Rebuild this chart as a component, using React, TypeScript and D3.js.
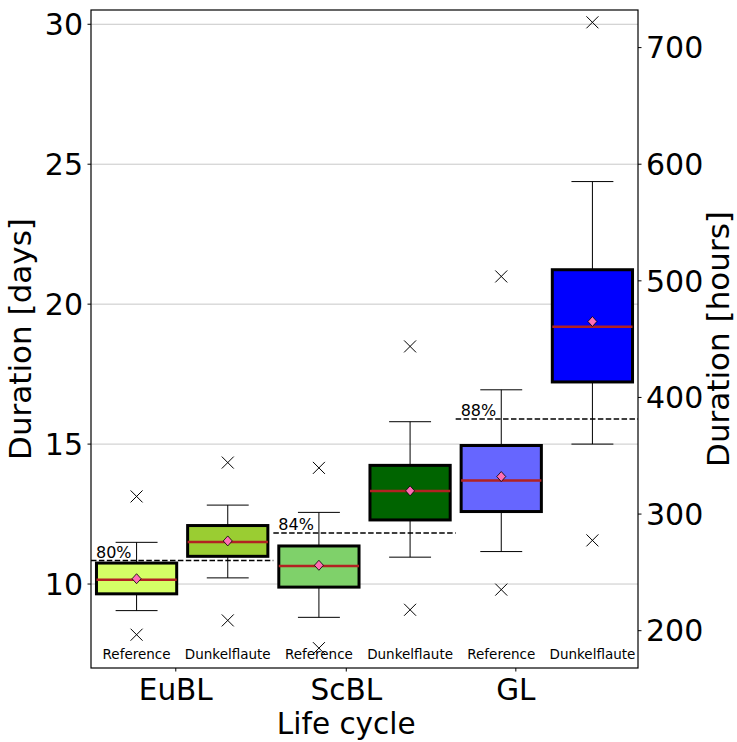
import * as d3 from "d3";

// boxes in draw order: EuBL Ref, EuBL Dunkel, ScBL Ref, ScBL Dunkel, GL Ref, GL Dunkel
const groups = ["EuBL", "ScBL", "GL"];
const groupTickPos = [1.43, 3.3, 5.16];
const caseLabels = ["Reference", "Dunkelflaute", "Reference", "Dunkelflaute", "Reference", "Dunkelflaute"];
const boxColors = ["#d4ff66", "#9acd32", "#7fd16a", "#006400", "#6666ff", "#0000ff"];

const q1 = [9.65, 10.99, 9.89, 12.29, 12.59, 17.22];
const q3 = [10.75, 12.09, 11.36, 14.24, 14.95, 21.23];
const medians = [10.15, 11.5, 10.64, 13.32, 13.7, 19.19];
const means = [10.19, 11.54, 10.67, 13.33, 13.84, 19.38];
const whiskerLow = [9.05, 10.22, 8.81, 10.96, 11.16, 15.0];
const whiskerHigh = [11.49, 12.82, 12.56, 15.8, 16.94, 24.38];
const outlierLow = [8.19, 8.7, 7.71, 9.08, 9.8, 11.56];
const outlierHigh = [13.13, 14.34, 14.15, 18.49, 20.99, 30.07];

// percentile thresholds, one per life cycle (spanning its two boxes)
const thresholds = [10.84, 11.82, 15.9];
const thresholdLabels = ["80%", "84%", "88%"];

const dayTicks = [10, 15, 20, 25, 30];
const hourTicks = [200, 300, 400, 500, 600, 700];

const W = 737;
const H = 742;
const left = 91;
const right = 638;
const top = 10;
const bottom = 668;
const font = "DejaVu Sans, sans-serif";

export default function App() {
  const x = d3.scaleLinear().domain([0.5, 6.5]).range([left, right]);
  const y = d3.scaleLinear().domain([7.0, 30.51]).range([bottom, top]);
  const yh = d3.scaleLinear().domain([7.0 * 24, 30.51 * 24]).range([bottom, top]);
  const slot = x(2) - x(1);
  const boxW = slot * 0.88;
  const capW = slot * 0.46;

  return (
    <svg width={W} height={H} style={{ position: "absolute", left: 0, top: 0 }} fontFamily={font}>
      <rect width={W} height={H} fill="#fff" />
      {/* grid */}
      {dayTicks.map((t) => (
        <line key={"g" + t} x1={left} x2={right} y1={y(t)} y2={y(t)} stroke="#c8c8c8" strokeWidth={1} />
      ))}

      {/* boxes */}
      {q1.map((_, i) => {
        const cx = x(i + 1);
        const s = 6;
        return (
          <g key={"b" + i}>
            <line x1={cx} x2={cx} y1={y(whiskerHigh[i])} y2={y(q3[i])} stroke="#000" strokeWidth={1} />
            <line x1={cx} x2={cx} y1={y(q1[i])} y2={y(whiskerLow[i])} stroke="#000" strokeWidth={1} />
            <line x1={cx - capW / 2} x2={cx + capW / 2} y1={y(whiskerHigh[i])} y2={y(whiskerHigh[i])} stroke="#000" strokeWidth={1} />
            <line x1={cx - capW / 2} x2={cx + capW / 2} y1={y(whiskerLow[i])} y2={y(whiskerLow[i])} stroke="#000" strokeWidth={1} />
            <rect
              x={cx - boxW / 2}
              y={y(q3[i])}
              width={boxW}
              height={y(q1[i]) - y(q3[i])}
              fill={boxColors[i]}
              stroke="#000"
              strokeWidth={3}
            />
            <line x1={cx - boxW / 2} x2={cx + boxW / 2} y1={y(medians[i])} y2={y(medians[i])} stroke="#b22222" strokeWidth={2.5} />
            <path
              d={`M${cx},${y(means[i]) - 5}L${cx + 4.5},${y(means[i])}L${cx},${y(means[i]) + 5}L${cx - 4.5},${y(means[i])}Z`}
              fill="#ff6eb4"
              stroke="#000"
              strokeWidth={0.8}
            />
            {[outlierLow[i], outlierHigh[i]].map((v, k) => (
              <path
                key={k}
                d={`M${cx - s},${y(v) - s}L${cx + s},${y(v) + s}M${cx - s},${y(v) + s}L${cx + s},${y(v) - s}`}
                stroke="#000"
                strokeWidth={1}
              />
            ))}
            <text x={cx} y={659} fontSize={13.5} textAnchor="middle">
              {caseLabels[i]}
            </text>
          </g>
        );
      })}

      {/* thresholds */}
      {thresholds.map((t, g) => (
        <g key={"t" + g}>
          <line
            x1={x(g * 2 + 0.5)}
            x2={x(g * 2 + 2.5)}
            y1={y(t)}
            y2={y(t)}
            stroke="#000"
            strokeWidth={1.5}
            strokeDasharray="5.5,2.4"
          />
          <text x={x(g * 2 + 0.5) + 5} y={y(t) - 3} fontSize={16}>
            {thresholdLabels[g]}
          </text>
        </g>
      ))}

      {/* frame */}
      <rect x={left} y={top} width={right - left} height={bottom - top} fill="none" stroke="#000" strokeWidth={1.2} />

      {/* left axis */}
      {dayTicks.map((t) => (
        <g key={"l" + t}>
          <line x1={left - 3.5} x2={left} y1={y(t)} y2={y(t)} stroke="#000" strokeWidth={1} />
          <text x={left - 8} y={y(t)} dy="0.36em" fontSize={30} textAnchor="end">
            {t}
          </text>
        </g>
      ))}
      {/* right axis */}
      {hourTicks.map((t) => (
        <g key={"r" + t}>
          <line x1={right} x2={right + 3.5} y1={yh(t)} y2={yh(t)} stroke="#000" strokeWidth={1} />
          <text x={right + 8} y={yh(t)} dy="0.36em" fontSize={30} textAnchor="start">
            {t}
          </text>
        </g>
      ))}
      {/* x axis */}
      {groups.map((gname, g) => (
        <g key={"x" + g}>
          <line x1={x(groupTickPos[g])} x2={x(groupTickPos[g])} y1={bottom} y2={bottom + 3.5} stroke="#000" strokeWidth={1} />
          <text x={x(groupTickPos[g])} y={700} fontSize={29.5} textAnchor="middle">
            {gname}
          </text>
        </g>
      ))}

      <text x={x(groupTickPos[1])} y={734} fontSize={29.5} textAnchor="middle">
        Life cycle
      </text>
      <text transform={`translate(31,${(top + bottom) / 2}) rotate(-90)`} fontSize={31} textAnchor="middle">
        Duration [days]
      </text>
      <text transform={`translate(729,${(top + bottom) / 2}) rotate(-90)`} fontSize={31} textAnchor="middle">
        Duration [hours]
      </text>
    </svg>
  );
}
